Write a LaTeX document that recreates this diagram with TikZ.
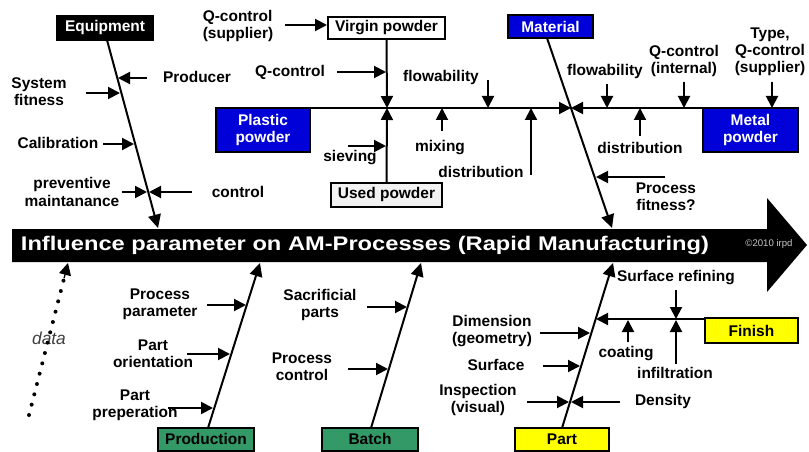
\documentclass[tikz,border=0pt]{standalone}
\usepackage{fontspec}
\setmainfont{Liberation Sans}
\newfontfamily\titlefont[FakeStretch=1.2]{Liberation Sans}
\usetikzlibrary{arrows.meta,calc}
\definecolor{boxblue}{HTML}{0000D8}
\definecolor{boxgreen}{HTML}{339966}
\definecolor{boxyellow}{HTML}{FFFF00}
\definecolor{usedgray}{HTML}{F2F2F2}
\begin{document}
\begin{tikzpicture}[x=0.75pt,y=-0.75pt,
  lbl/.style={font=\fontsize{11.6}{12.9}\selectfont\bfseries, align=center, inner sep=0pt},
  box/.style={draw=black, line width=1.5pt, inner sep=0pt, font=\fontsize{11.6}{12.9}\selectfont\bfseries, align=center},
  arr/.style={line width=1.5pt, -{Triangle[length=9pt,width=9pt]}},
  bone/.style={line width=1.5pt, -{Triangle[length=10pt,width=9.5pt]}}
]
\useasboundingbox (0,0) rectangle (809,452);
\fill[white] (0,0) rectangle (809,452);

% main arrow
\fill[black] (12,229) -- (767,229) -- (767,198) -- (807,245) -- (767,292) -- (767,262) -- (12,262) -- cycle;
\node[text=white, inner sep=0pt, font=\titlefont\fontsize{14.8}{16}\selectfont\bfseries] (title) at (365,245) {Influence parameter on AM-Processes (Rapid Manufacturing)};
\node[text=black!22, inner sep=0pt, font=\fontsize{7.2}{8}\selectfont] (copy) at (769,244) {\textcopyright2010 irpd};

% boxes
\node[box, fill=black, text=white, minimum width=72pt, minimum height=18pt] (equip) at (105,28) {Equipment};
\node[box, fill=white, minimum width=87.75pt, minimum height=16pt] (vp) at (386.5,28) {Virgin powder};
\node[box, fill=boxblue, text=white, minimum width=63.75pt, minimum height=17.25pt] (mat) at (550.5,26.5) {Material};
\node[box, fill=boxblue, text=white, minimum width=70.5pt, minimum height=33pt] (pp) at (263,130) {Plastic\\powder};
\node[box, fill=boxblue, text=white, minimum width=71.25pt, minimum height=33pt] (mp) at (750.5,130) {Metal\\powder};
\node[box, fill=usedgray, minimum width=83.25pt, minimum height=18pt] (up) at (386.5,195) {Used powder};
\node[box, fill=boxgreen, minimum width=72pt, minimum height=17.25pt] (prod) at (206,439) {Production};
\node[box, fill=boxgreen, minimum width=72pt, minimum height=17.25pt] (batch) at (370,439) {Batch};
\node[box, fill=boxyellow, minimum width=70.5pt, minimum height=17.25pt] (part) at (562,439) {Part};
\node[box, fill=boxyellow, minimum width=69.75pt, minimum height=18.75pt] (finish) at (751.5,330.5) {Finish};

% bone coordinates
\coordinate (eqA) at (107,40);   \coordinate (eqB) at (158,228);
\coordinate (maA) at (547,38);   \coordinate (maB) at (612,228);
\coordinate (prA) at (208,428);  \coordinate (prB) at (260,263);
\coordinate (baA) at (371,428);  \coordinate (baB) at (421,263);
\coordinate (paA) at (562,428);  \coordinate (paB) at (613,263);

\draw[bone] (eqA) -- (eqB);
\draw[bone] (maA) -- (maB);
\draw[bone] (prA) -- (prB);
\draw[bone] (baA) -- (baB);
\draw[bone] (paA) -- (paB);

% ---- Equipment labels
\node[lbl] (producer) at (197,77) {Producer};
\node[lbl] (sysfit) at (39,92) {System\\fitness};
\node[lbl] (calib) at (58,143) {Calibration};
\node[lbl] (prevm) at (72,192) {preventive\\maintanance};
\node[lbl] (ctrl) at (238,192) {control};
\coordinate (e1s) at (147,78);  \coordinate (e1) at (118,78);
\coordinate (e2s) at (86,93);   \coordinate (e2) at (120,93);
\coordinate (e3s) at (103,144); \coordinate (e3) at (134,144);
\coordinate (e4s) at (122,192); \coordinate (e4) at (147,192);
\coordinate (e5s) at (192,192); \coordinate (e5) at (149,192);
\draw[arr] (e1s) -- (e1);
\draw[arr] (e2s) -- (e2);
\draw[arr] (e3s) -- (e3);
\draw[arr] (e4s) -- (e4);
\draw[arr] (e5s) -- (e5);

% ---- Material labels and powder line
\coordinate (vpj) at (387,108);
\coordinate (mj) at (571,108);
\draw[arr] (pp.east |- mj) -- (mj);
\draw[arr] (mp.west |- mj) -- (mj);
\draw[arr] (vp.south) -- (vpj);
\draw[arr] (up.north) -- (vpj);

\node[lbl, align=left] (qcs) at (238,26) {Q-control\\(supplier)};
\coordinate (qcsS) at (285,25); \coordinate (qcsE) at (327,25);
\draw[arr] (qcsS) -- (qcsE);
\node[lbl] (qc) at (290,72) {Q-control};
\coordinate (qcS) at (337,72); \coordinate (qcE) at (386,72);
\draw[arr] (qcS) -- (qcE);
\node[lbl] (siev) at (350,158) {sieving};
\coordinate (sievS) at (348,146); \coordinate (sievE) at (386,146);
\draw[arr] (sievS) -- (sievE);

\node[lbl] (flow1) at (441,78) {flowability};
\draw[arr] (488,80) -- (488,108);
\node[lbl] (mix) at (440,148) {mixing};
\draw[arr] (442,131) -- (442,108);
\node[lbl] (dist1) at (481,172) {distribution};
\draw[arr] (531,175) -- (531,108);

\node[lbl] (flow2) at (605,72) {flowability};
\draw[arr] (607,84) -- (607,108);
\node[lbl] (qci) at (684,61) {Q-control\\(internal)};
\draw[arr] (684,82) -- (684,108);
\node[lbl] (type) at (770,52) {Type,\\Q-control\\(supplier)};
\draw[arr] (772,82) -- (772,108);
\node[lbl] (dist2) at (640,148) {distribution};
\draw[arr] (640,136) -- (640,108);
\node[lbl] (pfit) at (666,197) {Process\\fitness?};
\coordinate (m1) at (596,177);
\draw[arr] (665,177) -- (m1);

% ---- Production
\node[lbl] (ppar) at (160,304) {Process\\parameter};
\node[lbl] (pori) at (153,354) {Part\\orientation};
\node[lbl] (pprep) at (135,405) {Part\\preperation};
\coordinate (p1) at (246,305); \coordinate (p2) at (230,354); \coordinate (p3) at (213,408);
\draw[arr] (207,305) -- (p1);
\draw[arr] (187,354) -- (p2);
\draw[arr] (168,408) -- (p3);

% ---- Batch
\node[lbl] (sacr) at (320,305) {Sacrificial\\parts};
\node[lbl] (pctrl) at (302,367) {Process\\control};
\coordinate (b1) at (407,307); \coordinate (b2) at (388,369);
\draw[arr] (367,307) -- (b1);
\draw[arr] (348,369) -- (b2);

% ---- Part
\node[lbl] (dim) at (492,331) {Dimension\\(geometry)};
\node[lbl] (surf) at (496,365) {Surface};
\node[lbl] (insp) at (478,400) {Inspection\\(visual)};
\node[lbl] (dens) at (663,401) {Density};
\coordinate (q1) at (590,333); \coordinate (q2) at (580,366);
\coordinate (q3) at (569,402); \coordinate (q4) at (571,402);
\draw[arr] (540,333) -- (q1);
\draw[arr] (543,366) -- (q2);
\draw[arr] (527,402) -- (q3);
\draw[arr] (620,402) -- (q4);

% ---- Finish
\coordinate (fj) at (596,319);
\draw[arr] (finish.west |- fj) -- (fj);
\node[lbl] (sref) at (676,278) {Surface refining};
\draw[arr] (676,290) -- (676,319);
\node[lbl] (coat) at (626,354) {coating};
\draw[arr] (628,342) -- (628,320);
\node[lbl] (infil) at (675,373) {infiltration};
\draw[arr] (676,364) -- (676,320);

% ---- data
\node[inner sep=0pt, text=black!75, font=\fontsize{13}{14}\selectfont\itshape] (data) at (49,338) {data};
\coordinate (dA) at (29,415); \coordinate (dB) at (68,263);
\coordinate (dC) at ($(dA)!0.9!(dB)$);
\draw[line width=3pt, line cap=round, dash pattern=on 0pt off 8pt] (dA) -- (dC);
\draw[line width=1pt, -{Triangle[length=9pt,width=9pt]}] (dC) -- (dB);
\end{tikzpicture}
\end{document}
